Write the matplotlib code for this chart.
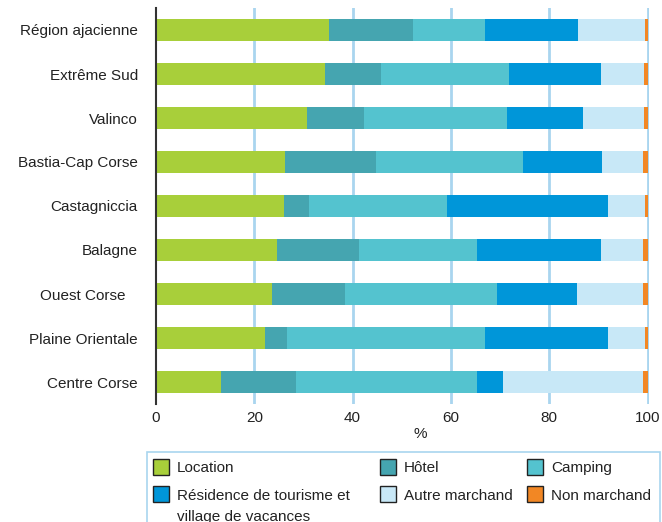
import numpy as np
import matplotlib.pyplot as plt
from matplotlib.patches import Rectangle

plt.rcParams['font.family'] = ['Liberation Sans', 'DejaVu Sans']

#%% data (% of beds per territory)
regions = ["Région ajacienne", "Extrême Sud", "Valinco", "Bastia-Cap Corse",
           "Castagniccia", "Balagne", "Ouest Corse   ", "Plaine Orientale", "Centre Corse"]
location   = [35.1, 34.3, 30.8, 26.2, 26.0, 24.7, 23.5, 22.1, 13.2]
hotel      = [17.2, 11.5, 11.6, 18.6,  5.2, 16.5, 15.0,  4.5, 15.2]
camping    = [14.6, 26.0, 29.0, 29.8, 28.0, 24.1, 30.9, 40.3, 36.9]
residence  = [18.9, 18.7, 15.4, 16.1, 32.7, 25.2, 16.2, 25.0,  5.3]
autre      = [13.6,  8.7, 12.4,  8.3,  7.5,  8.5, 13.4,  7.5, 28.4]
non_march  = [ 0.6,  0.8,  0.8,  1.0,  0.6,  1.0,  1.0,  0.6,  1.0]

series = [location, hotel, camping, residence, autre, non_march]
names = ["Location", "Hôtel", "Camping", "Résidence de tourisme et\nvillage de vacances",
         "Autre marchand", "Non marchand"]
colors = ["#a8cf3a", "#45a5b0", "#54c3cf", "#0096d9", "#c8e8f7", "#f28724"]

#%% plot
W, H = 662, 522
fig = plt.figure(figsize=(W / 100, H / 100), dpi=100)
ax = fig.add_axes([156 / W, 1 - 404 / H, 493 / W, 396 / H])

y = np.arange(len(regions))
left = np.zeros(len(regions))
for vals, c in zip(series, colors):
    ax.barh(y, vals, left=left, height=0.52, color=c, zorder=2)
    left += np.array(vals)

ax.set_xlim(0, 100.3)
ax.set_ylim(len(regions) - 0.5, -0.5)
ax.set_yticks(y)
ax.set_yticklabels(regions, fontsize=11, color="#222222")
ax.set_xticks([0, 20, 40, 60, 80, 100])
ax.tick_params(axis="y", length=0, pad=13)
ax.tick_params(axis="x", length=0, pad=5, labelsize=11, labelcolor="#222222")
for xv in [20, 40, 60, 80, 100]:
    ax.axvline(xv, color="#a9d5ef", lw=2, zorder=1)
for s in ["top", "right", "bottom"]:
    ax.spines[s].set_visible(False)
ax.spines["left"].set_color("#333333")
ax.spines["left"].set_linewidth(1.5)
ax.spines["left"].set_zorder(3)
ax.set_xlabel("%", fontsize=11, color="#222222", labelpad=2)
ax.xaxis.set_label_coords(0.537, -0.058)

#%% legend (drawn by hand to keep the row-wise layout)
def fx(px):
    return px / W

def fy(py):
    return 1 - py / H

fig.add_artist(Rectangle((fx(147), fy(530)), fx(513), 78 / H, transform=fig.transFigure,
                         facecolor="white", edgecolor="#a9d5ef", lw=1.2))
col_x = [153, 380, 527]
row_y = [466.5, 494]
for i, (name, c) in enumerate(zip(names, colors)):
    cx = col_x[i % 3]
    ry = row_y[i // 3]
    fig.add_artist(Rectangle((fx(cx), fy(ry + 8)), 16 / W, 16 / H, transform=fig.transFigure,
                             facecolor=c, edgecolor="#222222", lw=1))
    t = fig.text(fx(cx + 24), fy(ry + 5.5), name.split("\n")[0], fontsize=11,
                 color="#222222", va="baseline", ha="left")
    if "\n" in name:
        fig.text(fx(cx + 24), fy(ry + 26.5), name.split("\n")[1], fontsize=11,
                 color="#222222", va="baseline", ha="left")

fig.savefig("out.png", dpi=100)
